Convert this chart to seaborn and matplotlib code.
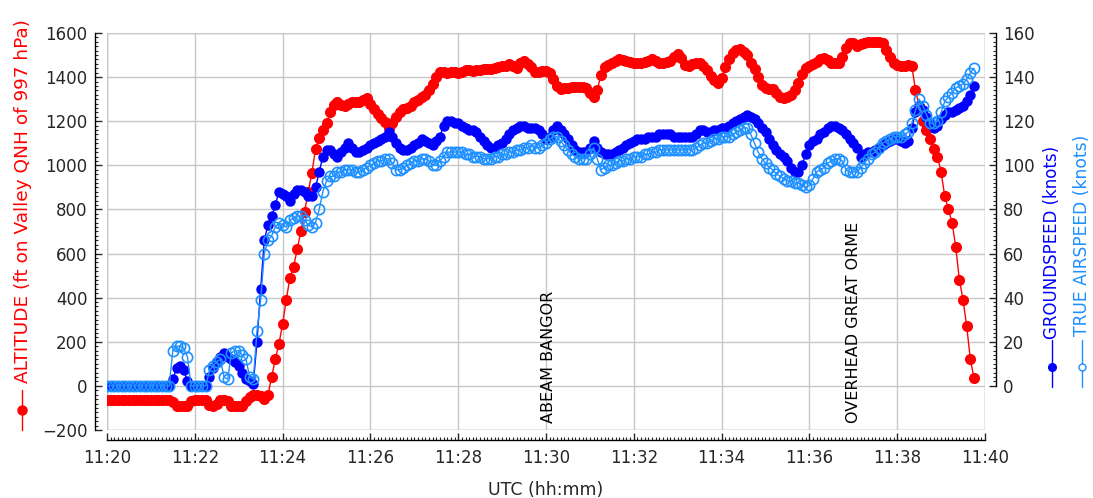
import numpy as np
import pandas as pd
import matplotlib
matplotlib.use("Agg")
import matplotlib.pyplot as plt
from matplotlib.lines import Line2D
from matplotlib.patches import Rectangle
from matplotlib.ticker import MultipleLocator, FixedLocator
import seaborn as sns

# Flight log, one sample every 5 seconds starting at 11:20:00 UTC
SAMPLE_SECONDS = 5

altitude_ft = [
    -65, -65, -65, -65, -65, -65, -65, -65, -65, -65, -65, -65,
    -65, -65, -65, -65, -65, -65, -75, -90, -90, -90, -90, -70,
    -65, -65, -65, -65, -85, -90, -80, -65, -65, -70, -90, -90,
    -90, -90, -70, -50, -40, -40, -45, -60, -40, 40, 120, 190,
    280, 390, 490, 540, 620, 700, 790, 880, 965, 1075, 1125, 1160,
    1190, 1240, 1275, 1285, 1275, 1270, 1280, 1285, 1285, 1285, 1295, 1305,
    1280, 1255, 1235, 1215, 1195, 1170, 1190, 1220, 1240, 1255, 1260, 1270,
    1285, 1295, 1310, 1320, 1340, 1370, 1400, 1425, 1425, 1420, 1425, 1425,
    1420, 1425, 1430, 1430, 1428, 1430, 1432, 1435, 1435, 1436, 1440, 1445,
    1450, 1452, 1458, 1450, 1440, 1462, 1475, 1460, 1445, 1425, 1425, 1428,
    1428, 1420, 1390, 1360, 1345, 1350, 1352, 1353, 1353, 1353, 1353, 1350,
    1330, 1308, 1340, 1410, 1445, 1455, 1465, 1475, 1480, 1478, 1472, 1468,
    1466, 1466, 1466, 1468, 1472, 1482, 1475, 1466, 1466, 1468, 1475, 1492,
    1505, 1485, 1455, 1452, 1458, 1462, 1466, 1450, 1430, 1405, 1385, 1375,
    1395, 1445, 1480, 1508, 1522, 1526, 1515, 1498, 1465, 1435, 1400, 1365,
    1350, 1345, 1345, 1330, 1312, 1305, 1310, 1318, 1340, 1375, 1415, 1440,
    1450, 1458, 1468, 1480, 1488, 1478, 1466, 1466, 1466, 1490, 1530, 1555,
    1555, 1540, 1548, 1556, 1557, 1557, 1557, 1557, 1555, 1525, 1490, 1466,
    1455, 1452, 1452, 1455, 1450, 1340, 1270, 1200, 1160, 1120, 1075, 1040,
    970, 860, 800, 740, 630, 480, 390, 270, 120, 35,
]

groundspeed_kt = [
    0, 0, 0, 0, 0, 0, 0, 0, 0, 0, 0, 0,
    0, 0, 0, 0, 0, 0, 3, 8, 9, 7, 2, 0,
    0, 0, 0, 0, 4, 8, 11, 13, 15, 13, 12, 11,
    9, 6, 3, 2, 1, 20, 44, 66, 73, 77, 82, 88,
    87, 86, 84, 87, 89, 89, 88, 86, 86, 90, 97, 104,
    107, 107, 105, 104, 106, 108, 110, 108, 106, 106, 107, 108,
    109, 110, 111, 112, 113, 115, 113, 110, 108, 107, 107, 108,
    109, 110, 112, 111, 110, 109, 111, 113, 118, 120, 120, 119,
    119, 118, 117, 116, 116, 115, 113, 111, 109, 108, 108, 109,
    110, 112, 114, 116, 117, 118, 118, 117, 117, 117, 116, 114,
    112, 113, 116, 118, 116, 114, 112, 109, 107, 106, 106, 106,
    108, 111, 108, 106, 105, 105, 105, 106, 107, 108, 109, 110,
    111, 112, 112, 112, 113, 113, 113, 114, 114, 114, 114, 113,
    113, 113, 113, 113, 113, 114, 116, 116, 115, 115, 116, 116,
    117, 117, 118, 119, 120, 121, 122, 123, 122, 121, 119, 117,
    115, 112, 109, 107, 105, 104, 102, 99, 97, 97, 100, 105,
    109, 111, 112, 114, 115, 117, 118, 118, 117, 116, 114, 112,
    110, 108, 104, 105, 106, 106, 107, 108, 109, 110, 111, 112,
    112, 111, 110, 111, 117, 124, 127, 125, 122, 119, 117, 118,
    121, 123, 124, 124, 125, 126, 127, 129, 132, 136,
]

airspeed_kt = [
    0, 0, 0, 0, 0, 0, 0, 0, 0, 0, 0, 0,
    0, 0, 0, 0, 0, 0, 16, 18, 18, 17, 13, 0,
    0, 0, 0, 0, 7, 9, 11, 12, 4, 3, 15, 16,
    16, 14, 12, 4, 3, 25, 39, 60, 66, 68, 72, 74,
    73, 72, 75, 76, 77, 77, 75, 73, 72, 74, 80, 88,
    93, 95, 95, 97, 97, 98, 98, 98, 97, 97, 98, 99,
    100, 101, 102, 102, 103, 103, 101, 98, 98, 99, 100, 101,
    102, 102, 103, 103, 102, 100, 100, 102, 104, 106, 106, 106,
    106, 106, 105, 105, 104, 104, 104, 103, 103, 103, 104, 104,
    105, 105, 106, 106, 107, 107, 108, 108, 109, 108, 108, 109,
    110, 112, 113, 113, 111, 109, 107, 105, 104, 103, 103, 103,
    105, 108, 103, 98, 99, 100, 100, 101, 102, 102, 103, 103,
    104, 104, 104, 105, 105, 106, 106, 107, 107, 107, 107, 107,
    107, 107, 107, 107, 107, 108, 109, 110, 110, 111, 112, 112,
    113, 113, 113, 114, 115, 116, 117, 117, 114, 110, 106, 103,
    101, 99, 98, 96, 95, 94, 93, 93, 92, 92, 91, 90,
    91, 94, 97, 98, 99, 101, 102, 103, 103, 102, 98, 97,
    97, 97, 99, 101, 103, 105, 106, 108, 110, 111, 112, 113,
    113, 113, 114, 115, 119, 125, 130, 127, 123, 119, 119, 120,
    124, 129, 131, 133, 135, 136, 137, 139, 142, 144,
]

x_tick_labels = ["11:20", "11:22", "11:24", "11:26", "11:28", "11:30",
                 "11:32", "11:34", "11:36", "11:38", "11:40"]
alt_ticks = [-200, 0, 200, 400, 600, 800, 1000, 1200, 1400, 1600]
speed_ticks = [0, 20, 40, 60, 80, 100, 120, 140, 160]

event_labels = ["ABEAM BANGOR", "OVERHEAD GREAT ORME"]
event_minutes = [10.05, 17.0]

RED = "#ff0000"
BLUE = "#0000ff"
LIGHT_BLUE = "#1e90ff"
GRID = "#c8c8c8"

sns.set_style("white")
plt.rcParams["font.family"] = ["DejaVu Sans"]

minutes = np.arange(len(altitude_ft)) * SAMPLE_SECONDS / 60.0
df = pd.DataFrame({
    "minutes": minutes,
    "altitude": altitude_ft,
    "groundspeed": groundspeed_kt,
    "airspeed": airspeed_kt,
})

W, H = 1093, 498
fig = plt.figure(figsize=(W / 100, H / 100), dpi=100)
fig.patch.set_facecolor("white")


def fx(px):
    return px / W


def fy(py):
    return 1 - py / H


ax = fig.add_axes([fx(107), fy(430), (985 - 107) / W, (430 - 33) / H])
ax2 = ax.twinx()

sns.lineplot(data=df, x="minutes", y="altitude", ax=ax, color=RED,
             linewidth=1, marker="o", markersize=8,
             markerfacecolor=RED, markeredgecolor=RED, markeredgewidth=0)
sns.lineplot(data=df, x="minutes", y="groundspeed", ax=ax2, color=BLUE,
             linewidth=1, marker="o", markersize=7.5,
             markerfacecolor=BLUE, markeredgecolor=BLUE, markeredgewidth=0)
sns.lineplot(data=df, x="minutes", y="airspeed", ax=ax2, color=LIGHT_BLUE,
             linewidth=1, marker="o", markersize=7.4,
             markerfacecolor="none", markeredgecolor=LIGHT_BLUE,
             markeredgewidth=1.2)

ax.set_xlim(0, 20)
ax.set_ylim(-200, 1600)
ax2.set_ylim(-20, 160)
ax.set_ylabel("")
ax2.set_ylabel("")

ax.set_xticks(np.arange(0, 21, 2))
ax.set_xticklabels(x_tick_labels)
ax.xaxis.set_minor_locator(MultipleLocator(SAMPLE_SECONDS / 60.0))
ax.set_yticks(alt_ticks)
ax.yaxis.set_minor_locator(MultipleLocator(20))
ax2.set_yticks(speed_ticks)
ax2.yaxis.set_minor_locator(FixedLocator(np.arange(0, 161, 2)))

ax.grid(True, which="major", color=GRID, linewidth=1)
ax.set_axisbelow(True)
ax2.grid(False)

for side in ["left", "bottom"]:
    ax.spines[side].set_color("black")
    ax.spines[side].set_linewidth(1)
ax.spines["left"].set_position(("outward", 9))
ax.spines["bottom"].set_position(("outward", 7))
ax.spines["top"].set_visible(False)
ax.spines["right"].set_visible(False)
for side in ["left", "top", "bottom"]:
    ax2.spines[side].set_visible(False)
ax2.spines["right"].set_position(("outward", 8))
ax2.spines["right"].set_bounds(0, 160)
ax2.spines["right"].set_color("black")
ax2.spines["right"].set_linewidth(1)

frame = Rectangle((0, 0), 1, 1, transform=ax.transAxes, fill=False,
                  edgecolor="#b0b0b0", linewidth=1, zorder=0.5)
ax.add_patch(frame)

ax.tick_params(axis="x", which="major", direction="in", length=5, width=1,
               labelsize=12, pad=7, bottom=True)
ax.tick_params(axis="x", which="minor", direction="in", length=2.5,
               width=0.8, bottom=True)
ax.tick_params(axis="y", which="major", direction="in", length=5, width=1,
               labelsize=12, pad=5, left=True)
ax.tick_params(axis="y", which="minor", direction="in", length=2.5,
               width=0.8, left=True)
ax2.tick_params(axis="y", which="major", direction="in", length=5, width=1,
                labelsize=12, pad=5, right=True)
ax2.tick_params(axis="y", which="minor", direction="in", length=2.5,
                width=0.8, right=True)

for name, m in zip(event_labels, event_minutes):
    ax.text(m, -170, name, rotation=90, ha="center", va="bottom",
            fontsize=11.5, color="black", zorder=1)

ax.set_xlabel("UTC (hh:mm)", fontsize=12.5, labelpad=10)

# Axis titles with their series symbols
fig.text(fx(23), fy(201), "ALTITUDE (ft on Valley QNH of 997 hPa)",
         rotation=90, ha="center", va="center", fontsize=13.3, color=RED)
fig.text(fx(1052), fy(242), "GROUNDSPEED (knots)",
         rotation=90, ha="center", va="center", fontsize=12, color=BLUE)
fig.text(fx(1082), fy(235), "TRUE AIRSPEED (knots)",
         rotation=90, ha="center", va="center", fontsize=12.3, color=LIGHT_BLUE)


def key_symbol(xp, y0, y1, ym, color, filled, size):
    fig.add_artist(Line2D([fx(xp), fx(xp)], [fy(y0), fy(y1)],
                          transform=fig.transFigure, color=color, linewidth=1))
    fig.add_artist(Line2D([fx(xp)], [fy(ym)], transform=fig.transFigure,
                          marker="o", markersize=size, linestyle="none",
                          markerfacecolor=color if filled else "white",
                          markeredgecolor=color, markeredgewidth=1))


key_symbol(22, 430, 390, 410, RED, True, 6.5)
key_symbol(1052, 387, 340, 367, BLUE, True, 5.5)
key_symbol(1082, 387, 340, 367, LIGHT_BLUE, False, 5.0)

fig.savefig("out.png", dpi=100, facecolor="white")
